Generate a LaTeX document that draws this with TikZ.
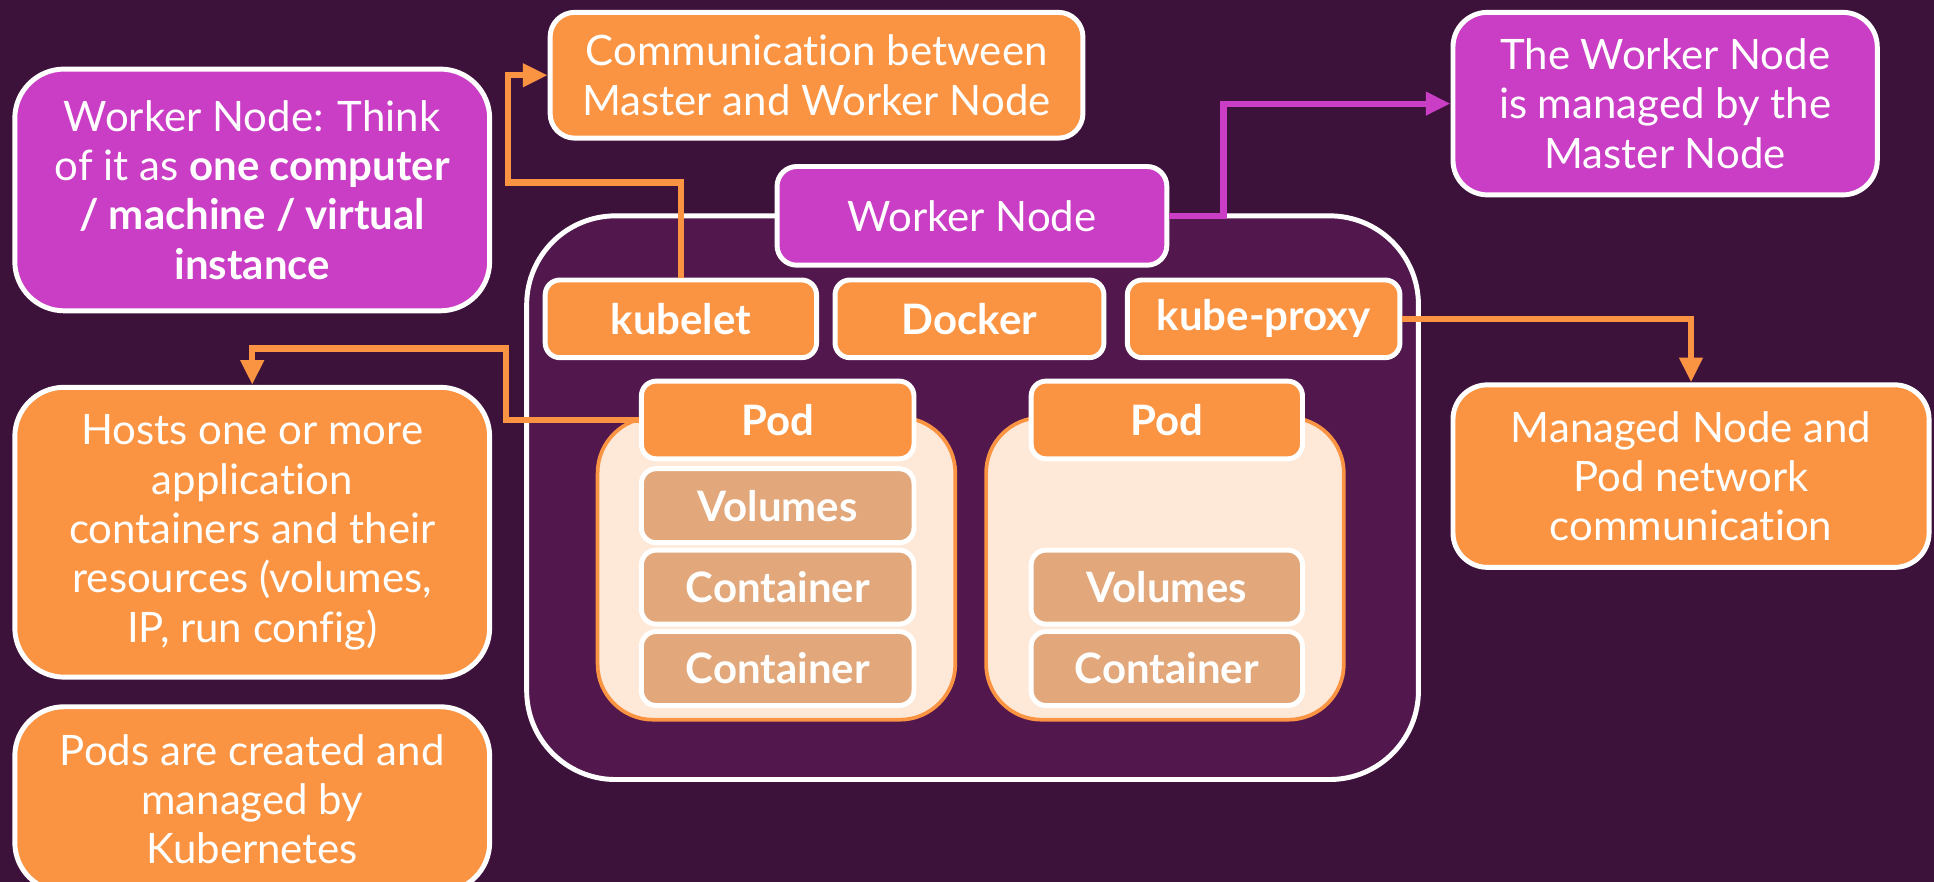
\documentclass[tikz,border=0pt]{standalone}
\usepackage{fontspec}
\setmainfont{Lato}[Ligatures=NoCommon]
\usetikzlibrary{arrows.meta}

\definecolor{bgpurple}{RGB}{61,18,58}
\definecolor{nodepurple}{RGB}{82,24,78}
\definecolor{magentabox}{RGB}{202,62,197}
\definecolor{orangebox}{RGB}{251,148,66}
\definecolor{podfill}{RGB}{254,233,216}
\definecolor{partfill}{RGB}{226,168,123}

\tikzset{every picture/.style={line width=4pt}}
\tikzset{
  box/.style={draw=white, line width=4pt, anchor=north west, align=center,
    text=white, inner sep=0pt, font=\fontsize{34}{40}\selectfont},
  tagbox/.style={box, rounded corners=12, font=\fontsize{34}{40}\selectfont\bfseries},
  notebox/.style={box, rounded corners=40},
  link/.style={draw=#1, line width=5pt, -{Triangle[length=20pt,width=18pt]}},
}

\begin{document}
\begin{tikzpicture}[x=1pt,y=1pt,yscale=-1,xscale=1]
\fill[bgpurple] (0,0) rectangle (1568,715);
\useasboundingbox (0,0) rectangle (1568,715);

% Worker Node frame
\node [box, fill=nodepurple, rounded corners=72, minimum width=723, minimum height=457] (worker) at (425,173) {};
\node [box, fill=magentabox, rounded corners=16, minimum width=316, minimum height=80] (wnlabel) at (628,133) {Worker Node};

% Worker Node parts
\node [tagbox, fill=orangebox, minimum width=220, minimum height=63] (kubelet) at (440,225) {kubelet};
\node [tagbox, fill=orangebox, minimum width=218, minimum height=63] (docker) at (675,225) {Docker};
\node [tagbox, fill=orangebox, minimum width=221, minimum height=63] (proxy) at (912,225) {kube-proxy};

% Pods
\node [box, draw=orangebox, line width=3pt, fill=podfill, rounded corners=45, minimum width=290, minimum height=245] (podA) at (483,337) {};
\node [box, draw=orangebox, line width=3pt, fill=podfill, rounded corners=45, minimum width=290, minimum height=245] (podB) at (798,337) {};
\node [tagbox, fill=orangebox, minimum width=221, minimum height=63] (podAlabel) at (518,307) {Pod};
\node [tagbox, fill=orangebox, minimum width=220, minimum height=63] (podBlabel) at (834,307) {Pod};

\node [tagbox, fill=partfill, minimum width=221, minimum height=60] (volA) at (518,378) {Volumes};
\node [tagbox, fill=partfill, minimum width=221, minimum height=60] (contA) at (518,444) {Container};
\node [tagbox, fill=partfill, minimum width=221, minimum height=60] (contAA) at (518,510) {Container};
\node [tagbox, fill=partfill, minimum width=220, minimum height=60] (volB) at (834,444) {Volumes};
\node [tagbox, fill=partfill, minimum width=220, minimum height=60] (contB) at (834,510) {Container};

% Notes
\node [notebox, fill=magentabox, minimum width=385, minimum height=196] (think) at (10,54) {Worker Node: Think\\ of it as \textbf{one computer}\\ \textbf{/ machine / virtual}\\ \textbf{instance}};
\node [notebox, fill=orangebox, minimum width=385, minimum height=235] (hosts) at (10,312) {Hosts one or more\\ application\\ containers and their\\ resources (volumes,\\ IP, run config)};
\node [notebox, fill=orangebox, minimum width=385, minimum height=150] (created) at (10,571) {Pods are created and\\ managed by\\ Kubernetes};
\node [box, fill=orangebox, rounded corners=20, minimum width=432, minimum height=102] (comm) at (444,8) {Communication between\\ Master and Worker Node};
\node [box, fill=magentabox, rounded corners=28, minimum width=344, minimum height=148] (master) at (1176,8) {The Worker Node\\ is managed by the\\ Master Node};
\node [box, fill=orangebox, rounded corners=28, minimum width=386, minimum height=148] (netcomm) at (1176,310) {Managed Node and\\ Pod network\\ communication};

% Connectors
\draw [link=orangebox] (kubelet.north) -- ++(0,-77) -| ([xshift=-32]comm.west) -- (comm.west);
\draw [link=magentabox] (wnlabel.east) -- ++(44,0) |- (master.west);
\draw [link=orangebox] (proxy.east) -| (netcomm.north);
\draw [link=orangebox] (podAlabel.west) -- ++(-108,0) -- ++(0,-58) -| (hosts.north);

\end{tikzpicture}
\end{document}
